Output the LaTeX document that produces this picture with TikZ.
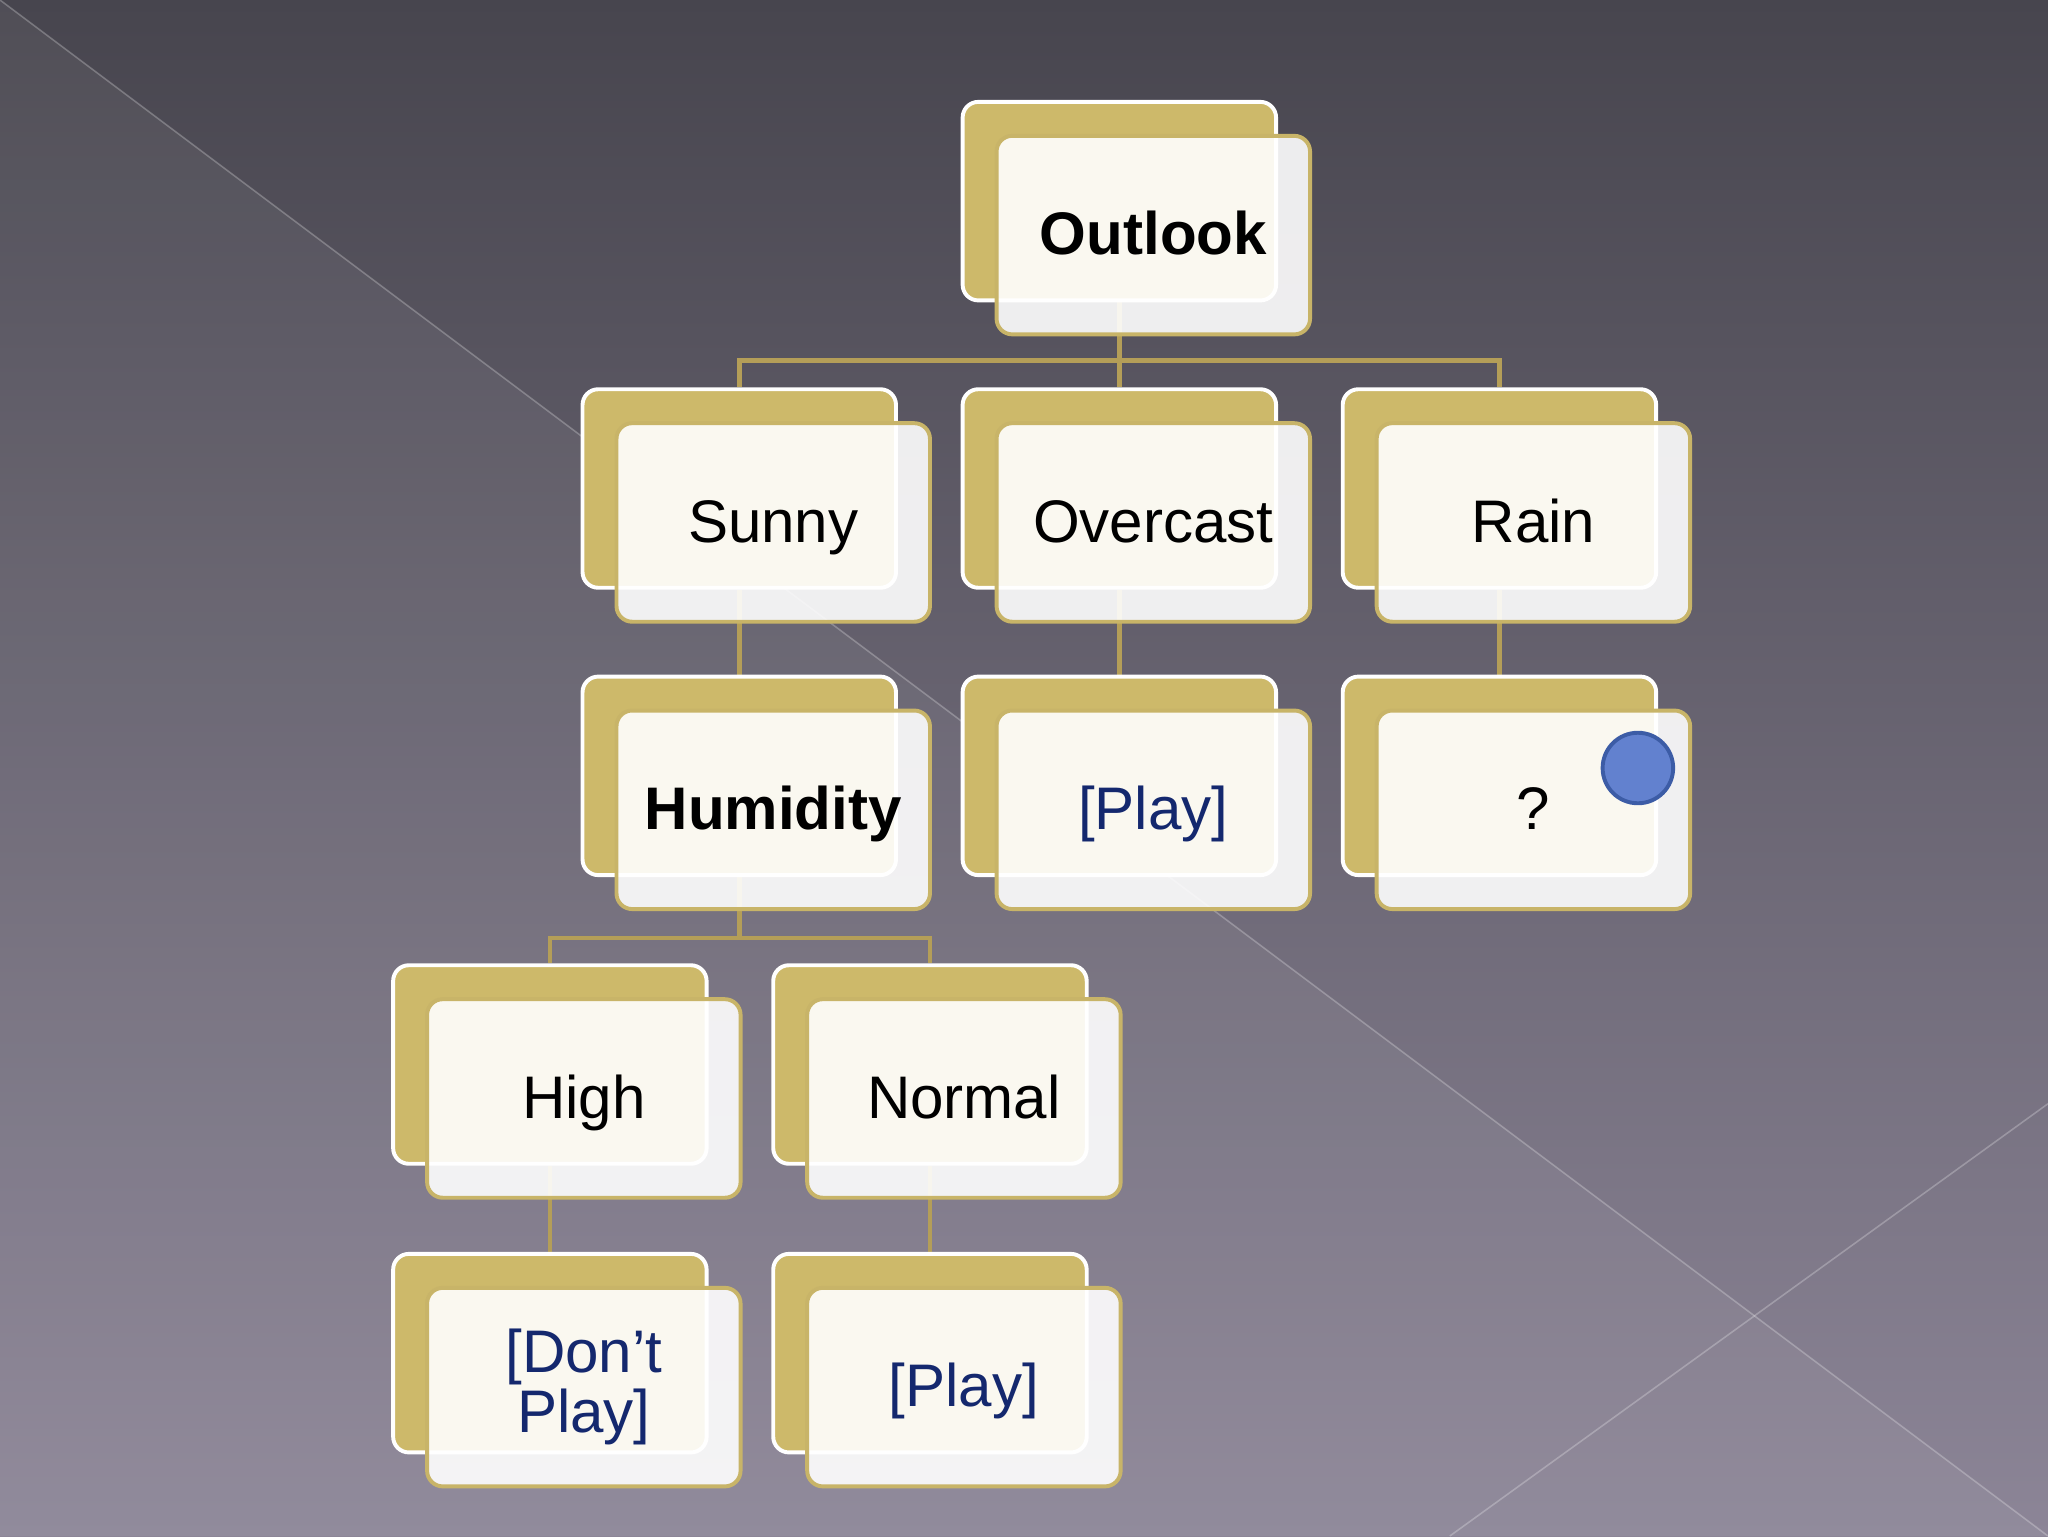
\documentclass[tikz,border=0pt]{standalone}
\usepackage{fontspec}
\setmainfont{Liberation Sans}
\definecolor{gold}{RGB}{205,185,106}
\definecolor{goldline}{RGB}{200,180,104}
\definecolor{connc}{RGB}{180,158,88}
\definecolor{navy}{RGB}{20,40,110}
\definecolor{bgtop}{RGB}{71,69,78}
\definecolor{bgbot}{RGB}{140,133,151}
\definecolor{dotfill}{RGB}{98,129,207}
\definecolor{dotline}{RGB}{60,92,166}
\pgfdeclarelayer{bglayer}
\pgfdeclarelayer{connlayer}
\pgfsetlayers{bglayer,connlayer,main}
\tikzset{
  backbox/.style={rectangle, rounded corners=12pt, minimum width=240pt, minimum height=152pt,
    fill=gold, draw=white, line width=3pt, inner sep=0pt},
  frontshape/.style={rectangle, rounded corners=12pt, minimum width=240pt, minimum height=152pt,
    fill=white, fill opacity=0.9, text opacity=1, draw=goldline, line width=3pt, inner sep=0pt,
    font=\fontsize{46}{46}\selectfont, align=center, text=black},
  frontbox/.style={frontshape, text height=40pt, text depth=10pt},
  boldtext/.style={font=\fontsize{46}{46}\selectfont\bfseries},
  conn/.style={draw=connc, line width=3.5pt},
  leaf/.style={text=navy},
}
\begin{document}
\begin{tikzpicture}[x=1pt,y=-1pt]
\useasboundingbox (0,0) rectangle (1568,1176);
% background
\begin{pgfonlayer}{bglayer}
\shade[top color=bgtop, bottom color=bgbot] (0,0) rectangle (1568,1176);
\fill[white, opacity=0.05] (0,0) -- (1568,1176) -- (0,1176) -- cycle;
\draw[white, opacity=0.25, line width=1.2pt] (0,0) -- (1568,1176);
\draw[white, opacity=0.25, line width=1.2pt] (1110,1176) -- (1568,845);
\end{pgfonlayer}

% back boxes
\node[backbox] (outB) at (857,154) {};
\node[backbox] (sunB) at (566,374) {};
\node[backbox] (ovcB) at (857,374) {};
\node[backbox] (rainB) at (1148,374) {};
\node[backbox] (humB) at (566,594) {};
\node[backbox] (play1B) at (857,594) {};
\node[backbox] (qB) at (1148,594) {};
\node[backbox] (highB) at (421,815) {};
\node[backbox] (normB) at (712,815) {};
\node[backbox] (dpB) at (421,1036) {};
\node[backbox] (play2B) at (712,1036) {};

% front boxes
\node[frontbox, boldtext] (out) at (883,180) {Outlook};
\node[frontbox] (sun) at (592,400) {Sunny};
\node[frontbox] (ovc) at (883,400) {Overcast};
\node[frontbox] (rain) at (1174,400) {Rain};
\node[frontbox, boldtext] (hum) at (592,620) {Humidity};
\node[frontbox, leaf] (play1) at (883,620) {[Play]};
\node[frontbox] (q) at (1174,620) {?};
\node[frontbox] (high) at (447,841) {High};
\node[frontbox] (norm) at (738,841) {Normal};
\node[frontshape, leaf] (dp) at (447,1062) {[Don’t\\Play]};
\node[frontbox, leaf] (play2) at (738,1062) {[Play]};

\node[circle, minimum size=54pt, inner sep=0pt, fill=dotfill, draw=dotline, line width=3pt] (dot) at (1254,588) {};

% connectors (behind the boxes)
\coordinate (j1) at (857,276);
\coordinate (j2) at (566,718);
\begin{pgfonlayer}{connlayer}
\draw[conn] (outB.south) -- (j1);
\draw[conn] (j1) -| (sunB.north);
\draw[conn] (j1) -- (ovcB.north);
\draw[conn] (j1) -| (rainB.north);
\draw[conn] (sunB.south) -- (humB.north);
\draw[conn] (ovcB.south) -- (play1B.north);
\draw[conn] (rainB.south) -- (qB.north);
\draw[conn] (humB.south) -- (j2);
\draw[conn] (j2) -| (highB.north);
\draw[conn] (j2) -| (normB.north);
\draw[conn] (highB.south) -- (dpB.north);
\draw[conn] (normB.south) -- (play2B.north);
\end{pgfonlayer}
\end{tikzpicture}
\end{document}
